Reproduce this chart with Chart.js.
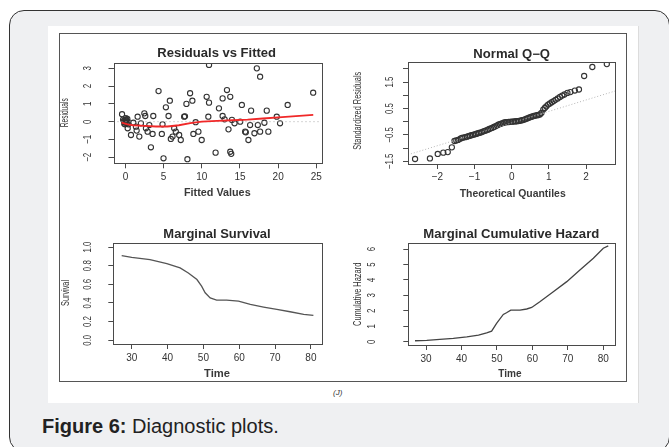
<!DOCTYPE html>
<html><head><meta charset="utf-8">
<script src="https://cdn.jsdelivr.net/npm/chart.js@4"></script>
<style>
html,body{margin:0;padding:0;background:#fff;width:669px;height:447px;overflow:hidden;font-family:"Liberation Sans",Arial,sans-serif}
#outer{position:absolute;left:9px;top:10px;width:661px;height:442px;border:1.5px solid #333;border-radius:15px;background:#eff0f2;box-sizing:border-box}
#white{position:absolute;left:48px;top:26px;width:591px;height:377px;background:#fff;border-right:1px solid #dcdcdc;box-sizing:border-box}
#frame{position:absolute;left:59px;top:33px;width:568px;height:349px;border:1.5px solid #555;box-sizing:border-box}
canvas{position:absolute}
#j{position:absolute;left:333px;top:388px;font:italic 8px "Liberation Sans",Arial,sans-serif;color:#333}
#cap{position:absolute;left:42px;top:414px;font-size:20px;line-height:24px;color:#222;white-space:nowrap}
</style>
</head><body>
<div id="outer"></div>
<div id="white"></div>
<div id="frame"></div>
<div id="j">(J)</div>
<div id="cap"><b>Figure 6:</b> Diagnostic plots.</div>
<script>
// ---- Residuals vs Fitted ----
const rvfFitted = [-0.44,-0.3,-0.2,-0.1,0.0,0.1,0.2,0.05,-0.15,0.3,0.15,0.4,0.25,0.0,-0.05,
  0.3,0.73,1.04,1.6,1.38,1.47,1.82,2.03,2.48,2.6,2.69,2.91,3.13,3.65,3.56,3.34,4.34,4.77,4.86,5.3,
  5.65,5.82,4.99,6.39,6.6,6.17,5.95,7.04,7.25,7.69,7.8,7.99,8.47,8.77,8.9,9.56,9.99,8.12,9.2,
  10.64,10.95,10.86,10.95,12.25,11.81,12.73,13.3,13.73,12.73,12.99,13.95,14.29,13.5,15.03,15.25,
  15.68,15.77,16.11,16.46,16.33,16.9,17.34,17.64,17.21,17.64,18.2,18.51,18.72,19.82,20.25,21.25,
  24.59,13.73,13.86];
const rvfResid = [0.42,0.12,0.05,0.0,-0.05,0.1,-0.1,0.2,-0.12,0.0,0.05,-0.15,0.15,0.08,-0.15,
  -0.37,-0.75,-0.06,0.28,-0.28,-0.5,-0.84,-0.09,0.47,0.32,-0.37,-0.56,-0.19,0.32,-0.69,-1.44,1.72,-0.69,-0.15,0.81,
  0.32,1.18,-2.06,-0.37,-0.56,-0.84,-0.97,-0.75,-1.03,0.28,0.3,1.0,1.6,1.18,-0.69,-0.56,-1.03,-2.11,-0.03,
  1.4,1.07,0.28,3.19,0.75,-1.74,1.31,1.78,1.4,0.32,0.13,0.1,-0.09,-0.43,0.0,0.94,
  -0.56,-0.6,-1.03,0.62,-0.19,-0.65,-0.19,-0.56,3.0,2.53,-0.06,0.62,-0.56,0.28,-0.09,0.94,
  1.63,-1.69,-1.81];
const smoothFitted = [-0.5,0.3,1.0,2.5,4.0,5.5,7.0,8.5,10.0,12.0,14.0,16.0,18.0,20.5,24.6];
const smoothResid  = [-0.05,-0.15,-0.2,-0.24,-0.27,-0.27,-0.2,-0.08,0.0,0.05,0.08,0.12,0.18,0.26,0.38];
const rvfXTicks = [0,5,10,15,20,25];
const rvfYTicks = [-2,-1,0,1,2,3];
const rvfYTickLabels = ["\u22122","\u22121","0","1","2","3"];

// ---- Normal Q-Q ----
const qqTheo = [-2.60,-2.20,-1.99,-1.84,-1.72,-1.61,-1.54,-1.49,-1.44,-1.38,-1.34,-1.30,
  -1.25,-1.20,-1.16,-1.12,-1.08,-1.04,-1.00,-0.96,-0.92,-0.88,-0.84,-0.80,-0.76,-0.72,-0.68,-0.64,
  -0.60,-0.56,-0.52,-0.48,-0.44,-0.40,-0.36,-0.32,-0.28,-0.24,-0.20,-0.16,-0.12,-0.08,-0.04,
  0.00,0.04,0.08,0.12,0.16,0.20,0.24,0.28,0.32,0.36,0.40,0.44,0.48,0.52,0.56,0.60,0.64,0.68,0.72,0.76,0.80,
  0.85,0.89,0.93,0.98,1.03,1.08,1.13,1.18,1.24,1.30,1.36,1.42,1.50,1.58,1.70,1.81,1.95,2.17,2.56];
const qqStd = [-1.41,-1.39,-1.22,-1.17,-1.15,-0.97,-0.73,-0.71,-0.69,-0.64,-0.61,-0.60,
  -0.585,-0.565,-0.545,-0.53,-0.51,-0.495,-0.48,-0.46,-0.445,-0.425,-0.41,-0.39,-0.365,-0.345,-0.325,-0.30,
  -0.275,-0.25,-0.23,-0.20,-0.175,-0.145,-0.115,-0.09,-0.07,-0.05,-0.03,-0.02,-0.015,-0.01,-0.005,
  0.00,0.005,0.012,0.018,0.022,0.03,0.042,0.055,0.072,0.09,0.115,0.138,0.16,0.18,0.20,0.22,0.232,0.245,0.255,0.275,0.33,
  0.46,0.52,0.58,0.65,0.69,0.74,0.78,0.83,0.88,0.94,0.99,1.03,1.09,1.12,1.18,1.22,1.73,2.07,2.18];
const qqLineTheo = [-2.79,2.78];
const qqLineStd  = [-1.25,1.16];
const qqXTicks = [-2,-1,0,1,2];
const qqXTickLabels = ["\u22122","\u22121","0","1","2"];
const qqYTicks = [-1.5,-1,-0.5,0,0.5,1,1.5,2];
const qqYLabelVals = [-1.5,-0.5,0.5,1.5];
const qqYTickLabels = ["\u22121.5","\u22120.5","0.5","1.5"];

// ---- Marginal Survival ----
const survTime = [27.2,30,35.1,39.8,43.5,45.8,48.2,49.5,50.5,51.9,53.7,56.5,59.8,63.1,66.8,70.5,74.2,78,80.7];
const survProb = [0.907,0.89,0.865,0.822,0.776,0.722,0.651,0.58,0.509,0.455,0.43,0.43,0.42,0.384,0.356,0.331,0.306,0.278,0.267];
const survXTicks = [30,40,50,60,70,80];
const survYTicks = [0,0.2,0.4,0.6,0.8,1.0];
const survYTickLabels = ["0.0","0.2","0.4","0.6","0.8","1.0"];

// ---- Marginal Cumulative Hazard ----
const hazTime = [26.9,30.2,33.9,37.7,41.5,44.8,47.1,48.5,49.9,51.8,52.7,53.9,56.5,58.4,59.8,62.1,65.9,69.7,73.4,77.2,80,81.4];
const hazCum  = [0.065,0.086,0.15,0.22,0.32,0.43,0.58,0.69,1.19,1.77,1.88,2.05,2.05,2.12,2.22,2.59,3.24,3.89,4.64,5.4,6.05,6.2];
const hazXTicks = [30,40,50,60,70,80];
const hazYTicks = [0,1,2,3,4,5,6];
const hazYTickLabels = ["0","1","2","3","4","5","6"];

const FONT = '"Liberation Sans", Arial, sans-serif';
const zip = (a,b) => a.map((v,i)=>({x:v,y:b[i]}));

function fitText(ctx, text, x, y, len, size, bold, rot, color) {
  ctx.save();
  ctx.font = (bold ? 'bold ' : '') + size + 'px ' + FONT;
  const w = ctx.measureText(text).width;
  let k = len / w; k = Math.max(0.5, Math.min(1.3, k));
  ctx.translate(x, y);
  if (rot) ctx.rotate(-Math.PI / 2);
  ctx.scale(k, 1);
  ctx.textAlign = 'center'; ctx.textBaseline = 'middle';
  ctx.fillStyle = color;
  ctx.fillText(text, 0, 0);
  ctx.restore();
}

function decorate(chart, d) {
  const ctx = chart.ctx, a = chart.chartArea;
  ctx.save();
  ctx.strokeStyle = '#4a4a4a'; ctx.lineWidth = 1;
  ctx.strokeRect(Math.round(a.left) + 0.5, Math.round(a.top) + 0.5, Math.round(a.right - a.left), Math.round(a.bottom - a.top));
  ctx.restore();
  fitText(ctx, d.title[0], d.title[1] - d.cx, d.title[2] - d.cy, d.title[3], 12, true, false, '#2a2a2a');
  fitText(ctx, d.xlab[0], d.xlab[1] - d.cx, d.xlab[2] - d.cy, d.xlab[3], 10, true, false, '#3a3a3a');
  fitText(ctx, d.ylab[0], d.ylab[1] - d.cx, d.ylab[2] - d.cy, d.ylab[3], 10.5, false, true, '#333');
  const ys = chart.scales.y;
  d.yLabVals.forEach((v, i) => {
    const t = d.yLabTexts[i];
    ctx.save();
    ctx.font = '10.5px ' + FONT;
    const w = ctx.measureText(t).width;
    ctx.restore();
    fitText(ctx, t, d.yLabX - d.cx, ys.getPixelForValue(v), w * 0.75, 10.5, false, true, '#333');
  });
}

function makeChart(d) {
  const cv = document.createElement('canvas');
  cv.width = d.cw; cv.height = d.ch;
  cv.style.left = d.cx + 'px'; cv.style.top = d.cy + 'px';
  cv.style.width = d.cw + 'px'; cv.style.height = d.ch + 'px';
  document.body.appendChild(cv);
  const yW = 8, xH = 22;
  const pad = {left: d.box[0] - d.cx - yW, top: d.box[1] - d.cy, right: d.cx + d.cw - d.box[2], bottom: d.cy + d.ch - d.box[3] - xH};
  const gridOpts = {display: true, drawOnChartArea: false, drawTicks: true, tickLength: 5, color: '#4a4a4a', lineWidth: 1};
  new Chart(cv, {
    type: 'scatter',
    data: {datasets: d.datasets},
    options: {
      responsive: false, animation: false, devicePixelRatio: 1,
      layout: {padding: pad},
      plugins: {legend: {display: false}, tooltip: {enabled: false}, title: {display: false}},
      elements: {line: {tension: 0}},
      scales: {
        x: {type: 'linear', min: d.xr[0], max: d.xr[1],
            afterBuildTicks: s => { s.ticks = d.xTicks.map(v => ({value: v})); },
            afterFit: s => { s.height = xH; s.paddingLeft = 0; s.paddingRight = 0; },
            grid: gridOpts, border: {display: false},
            ticks: {autoSkip: false, maxRotation: 0, minRotation: 0, padding: d.xPad, color: '#333',
                    font: {family: FONT, size: 10},
                    callback: (v, i) => d.xTickLabels[i]}},
        y: {type: 'linear', min: d.yr[0], max: d.yr[1],
            afterBuildTicks: s => { s.ticks = d.yTicks.map(v => ({value: v})); },
            afterFit: s => { s.width = yW; s.paddingTop = 0; s.paddingBottom = 0; },
            grid: gridOpts, border: {display: false},
            ticks: {display: false}}
      }
    },
    plugins: [{id: 'decor', afterDraw: c => decorate(c, d)}]
  });
}

const pointStyle = {showLine: false, pointStyle: 'circle', pointRadius: 2.6, pointBorderWidth: 1.1,
                    pointBorderColor: '#333', pointBackgroundColor: 'rgba(0,0,0,0)', order: 2};

makeChart({
  cx: 60, cy: 40, cw: 270, ch: 162, box: [113.5, 63, 321.5, 163.3],
  xr: [-1.56, 25.68], yr: [-2.34, 3.3],
  xTicks: rvfXTicks, xTickLabels: rvfXTicks.map(String), xPad: 3,
  yTicks: rvfYTicks, yLabVals: rvfYTicks, yLabTexts: rvfYTickLabels, yLabX: 88,
  title: ['Residuals vs Fitted', 216.7, 54, 118.7],
  xlab: ['Fitted Values', 217.3, 193, 66.7],
  ylab: ['Residuals', 65, 112.8, 29],
  datasets: [
    Object.assign({data: zip(rvfFitted, rvfResid)}, pointStyle),
    {data: zip([-1.56, 25.68], [0, 0]), showLine: true, pointRadius: 0, borderColor: '#aaaaaa', borderWidth: 1, borderDash: [1, 3], order: 1},
    {data: zip(smoothFitted, smoothResid), showLine: true, pointRadius: 0, borderColor: '#f02828', borderWidth: 1.8, order: 0}
  ]
});

makeChart({
  cx: 340, cy: 40, cw: 283, ch: 162, box: [408, 62, 615, 164],
  xr: [-2.79, 2.78], yr: [-1.6, 2.26],
  xTicks: qqXTicks, xTickLabels: qqXTickLabels, xPad: 2,
  yTicks: qqYTicks, yLabVals: qqYLabelVals, yLabTexts: qqYTickLabels, yLabX: 390,
  title: ['Normal Q\u2212Q', 511.7, 55, 76.7],
  xlab: ['Theoretical Quantiles', 512.7, 194, 106],
  ylab: ['Standardized Residuals', 358, 110.7, 78],
  datasets: [
    Object.assign({data: zip(qqTheo, qqStd)}, pointStyle),
    {data: zip(qqLineTheo, qqLineStd), showLine: true, pointRadius: 0, borderColor: '#b5b5b5', borderWidth: 1, borderDash: [1, 2], order: 1}
  ]
});

makeChart({
  cx: 60, cy: 222, cw: 270, ch: 158, box: [113.3, 243.3, 322.7, 344],
  xr: [24.86, 83.3], yr: [-0.04, 1.04],
  xTicks: survXTicks, xTickLabels: survXTicks.map(String), xPad: 3,
  yTicks: survYTicks, yLabVals: survYTicks, yLabTexts: survYTickLabels, yLabX: 88,
  title: ['Marginal Survival', 217, 235, 107.3],
  xlab: ['Time', 217, 374, 26],
  ylab: ['Survival', 66, 293, 26],
  datasets: [
    {data: zip(survTime, survProb), showLine: true, pointRadius: 0, borderColor: '#555', borderWidth: 1.3, order: 0}
  ]
});

makeChart({
  cx: 340, cy: 222, cw: 283, ch: 158, box: [408.3, 242.7, 615, 345],
  xr: [25.0, 83.3], yr: [-0.21, 6.41],
  xTicks: hazXTicks, xTickLabels: hazXTicks.map(String), xPad: 3,
  yTicks: hazYTicks, yLabVals: hazYTicks, yLabTexts: hazYTickLabels, yLabX: 372,
  title: ['Marginal Cumulative Hazard', 511.3, 235, 176],
  xlab: ['Time', 510, 374, 23.3],
  ylab: ['Cumulative Hazard', 358.3, 294.3, 63.3],
  datasets: [
    {data: zip(hazTime, hazCum), showLine: true, pointRadius: 0, borderColor: '#444', borderWidth: 1.3, order: 0}
  ]
});
</script>
</body></html>
